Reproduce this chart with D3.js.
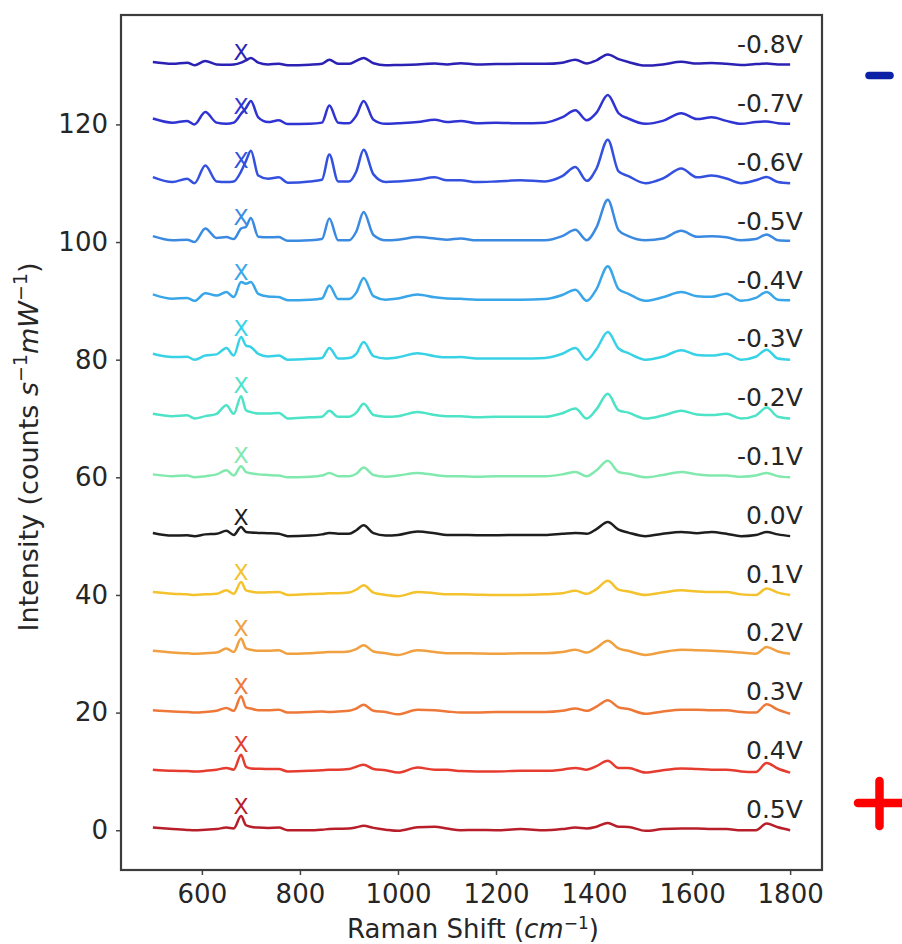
<!DOCTYPE html>
<html>
<head>
<meta charset="utf-8">
<script src="https://cdn.jsdelivr.net/npm/d3@7"></script>
<style>
  body { margin: 0; background: #fff; }
  text { font-family: "DejaVu Sans", sans-serif; fill: #262626; }
</style>
</head>
<body>
<div class="vis-raman"></div>
<script>
// Raman shift grid (cm^-1) shared by every spectrum
const wavenumbers = [500, 540, 570, 585, 607, 630, 650, 665, 680, 690, 700, 715, 735, 757, 775, 820, 845, 860, 878, 900,
  915, 930, 950, 975, 1000, 1040, 1075, 1100, 1128, 1160, 1200, 1250, 1300, 1335, 1362, 1385, 1405, 1428, 1450, 1470,
  1505, 1540, 1578, 1610, 1640, 1670, 1700, 1730, 1752, 1775, 1800];

const voltages = ['-0.8V', '-0.7V', '-0.6V', '-0.5V', '-0.4V', '-0.3V', '-0.2V', '-0.1V', '0.0V', '0.1V', '0.2V', '0.3V', '0.4V', '0.5V'];
const offsets = [130, 120, 110, 100, 90, 80, 70, 60, 50, 40, 30, 20, 10, 0];
const markerY = [132.3, 123.2, 113.9, 104.3, 94.9, 85.4, 75.6, 63.7, 53.3, 43.9, 34.3, 24.5, 14.7, 4.1];
const markerShift = 680;
const colors = ['#2b21b4', '#2e33d2', '#3450df', '#3a8ae2', '#38a6e8', '#38d2e6', '#4ce3c6', '#82e9ae', '#1e1e1e',
  '#f4c22c', '#f0a040', '#ee7838', '#e63c30', '#b81e2a'];

// intensities above each offset (counts s^-1 mW^-1)
const sM08 = [0.6, 0.3, 0.5, 0.05, 0.8, 0.2, 0.15, 0.2, 0.5, 0.9, 1.3, 0.5, 0.2, 0.3, 0.05, 0.15, 0.3, 1.0, 0.3, 0.3,
  0.8, 1.3, 0.4, 0.05, 0.1, 0.2, 0.35, 0.2, 0.4, 0.2, 0.25, 0.3, 0.3, 0.5, 1.0, 0.35, 0.9, 1.9, 1.1, 0.6,
  0.0, 0.2, 0.65, 0.35, 0.45, 0.3, 0.1, 0.25, 0.35, 0.2, 0.2];
const sM07 = [1.0, 0.3, 0.6, 0.0, 2.1, 0.3, 0.1, 0.3, 1.8, 2.8, 4.0, 1.2, 0.4, 0.7, 0.05, 0.1, 0.3, 3.2, 0.3, 0.2,
  1.5, 4.0, 0.8, 0.1, 0.2, 0.4, 0.8, 0.4, 0.6, 0.2, 0.3, 0.2, 0.3, 1.2, 2.4, 0.7, 2.0, 5.0, 1.9, 1.0,
  0.1, 0.6, 1.9, 0.9, 1.2, 0.6, 0.1, 0.4, 0.5, 0.2, 0.1];
const sM06 = [1.05, 0.2, 0.75, 0.0, 3.0, 0.3, 0.2, 0.3, 2.0, 3.8, 5.5, 1.3, 0.75, 1.0, 0.1, 0.3, 0.6, 4.9, 0.3, 0.3,
  2.0, 5.7, 1.5, 0.2, 0.3, 0.6, 1.0, 0.5, 0.5, 0.2, 0.3, 0.5, 0.3, 1.2, 2.75, 0.4, 2.5, 7.4, 2.0, 1.2,
  0.0, 0.8, 2.5, 1.0, 1.3, 0.8, 0.0, 0.5, 1.05, 0.2, 0.0];
const sM05 = [1.0, 0.3, 0.4, 0.0, 2.3, 0.7, 0.85, 0.5, 2.3, 2.6, 4.1, 0.9, 0.8, 0.85, 0.2, 0.3, 0.5, 4.0, 0.3, 0.3,
  1.8, 5.1, 1.2, 0.3, 0.4, 0.85, 0.6, 0.4, 0.6, 0.3, 0.3, 0.3, 0.3, 1.0, 2.1, 0.3, 2.5, 7.2, 2.0, 1.0,
  0.3, 0.6, 1.9, 0.9, 1.0, 0.8, 0.3, 0.5, 1.3, 0.3, 0.2];
const sM04 = [1.1, 0.35, 0.5, 0.0, 1.3, 0.9, 1.5, 0.65, 3.2, 2.9, 3.2, 1.2, 0.75, 0.65, 0.1, 0.2, 0.4, 2.6, 0.3, 0.3,
  1.4, 3.9, 0.8, 0.2, 0.4, 1.1, 0.6, 0.4, 0.35, 0.2, 0.2, 0.2, 0.3, 1.0, 1.9, 0.0, 2.0, 5.9, 2.0, 1.2,
  0.0, 0.6, 1.5, 0.8, 0.7, 1.2, 0.0, 0.5, 1.5, 0.2, 0.1];
const sM03 = [1.0, 0.45, 0.5, 0.0, 0.7, 0.9, 2.0, 0.7, 3.85, 2.4, 2.15, 1.0, 0.55, 0.7, 0.0, 0.15, 0.3, 2.0, 0.2, 0.3,
  1.0, 3.0, 0.6, 0.2, 0.4, 1.1, 0.6, 0.4, 0.45, 0.2, 0.2, 0.2, 0.3, 1.0, 2.0, 0.0, 1.8, 4.7, 1.9, 1.1,
  0.0, 0.5, 1.6, 0.8, 0.7, 1.0, 0.0, 0.5, 1.7, 0.2, 0.0];
const sM02 = [0.8, 0.4, 0.55, 0.0, 0.4, 0.8, 2.25, 0.8, 3.8, 1.4, 1.1, 0.85, 0.85, 0.95, 0.0, 0.2, 0.3, 1.3, 0.3, 0.3,
  1.0, 2.5, 0.6, 0.3, 0.4, 1.1, 0.6, 0.4, 0.4, 0.2, 0.3, 0.3, 0.3, 0.9, 1.7, 0.0, 1.6, 4.2, 1.4, 1.0,
  0.0, 0.5, 1.3, 0.7, 0.6, 0.8, 0.0, 0.5, 1.85, 0.3, 0.0];
const sM01 = [0.5, 0.2, 0.3, 0.0, 0.2, 0.5, 1.2, 0.3, 1.9, 0.9, 0.7, 0.5, 0.4, 0.3, 0.0, 0.1, 0.3, 0.75, 0.2, 0.2,
  0.6, 1.65, 0.4, 0.1, 0.3, 0.75, 0.4, 0.2, 0.2, 0.1, 0.2, 0.2, 0.2, 0.5, 0.9, 0.2, 1.2, 2.8, 0.9, 0.6,
  0.0, 0.4, 0.9, 0.5, 0.3, 0.3, 0.1, 0.3, 0.75, 0.2, 0.0];
const s00 = [0.55, 0.1, 0.15, 0.0, 0.3, 0.4, 0.9, 0.2, 1.55, 0.7, 0.6, 0.55, 0.5, 0.4, 0.0, 0.1, 0.3, 0.55, 0.4, 0.4,
  1.0, 1.85, 0.5, 0.1, 0.2, 0.8, 0.5, 0.2, 0.2, 0.15, 0.15, 0.2, 0.2, 0.4, 0.55, 0.4, 1.2, 2.4, 1.1, 0.6,
  0.0, 0.4, 0.7, 0.5, 0.7, 0.4, 0.0, 0.2, 0.7, 0.3, 0.0];
const sP01 = [0.5, 0.2, 0.1, 0.0, 0.1, 0.2, 0.8, 0.2, 2.2, 0.8, 0.6, 0.4, 0.45, 0.5, 0.0, 0.15, 0.2, 0.3, 0.3, 0.4,
  0.9, 1.65, 0.4, 0.0, -0.2, 0.5, 0.3, 0.1, 0.1, 0.05, 0.0, 0.0, 0.1, 0.3, 0.7, 0.2, 1.0, 2.4, 0.9, 0.6,
  0.0, 0.4, 0.8, 0.6, 0.5, 0.5, 0.1, 0.0, 1.1, 0.4, 0.0];
const sP02 = [0.5, 0.2, 0.1, 0.0, 0.1, 0.2, 0.9, 0.3, 2.6, 0.9, 0.7, 0.5, 0.5, 0.6, 0.0, 0.1, 0.2, 0.3, 0.3, 0.4,
  0.8, 1.45, 0.4, 0.1, -0.2, 0.6, 0.3, 0.1, 0.1, 0.05, 0.0, 0.1, 0.1, 0.3, 0.7, 0.2, 1.0, 2.2, 0.9, 0.5,
  -0.2, 0.3, 0.7, 0.6, 0.5, 0.4, 0.2, 0.0, 1.15, 0.4, 0.0];
const sP03 = [0.4, 0.2, 0.1, 0.0, 0.1, 0.3, 0.8, 0.3, 2.8, 0.9, 0.7, 0.4, 0.4, 0.5, 0.0, 0.1, 0.2, 0.1, 0.2, 0.3,
  0.7, 1.35, 0.3, 0.1, -0.3, 0.5, 0.4, 0.2, 0.0, 0.0, 0.1, 0.1, 0.1, 0.3, 0.7, 0.3, 1.0, 2.1, 0.9, 0.6,
  -0.2, 0.2, 0.5, 0.5, 0.4, 0.4, 0.1, 0.0, 1.4, 0.5, -0.2];
const sP04 = [0.3, 0.1, 0.05, 0.0, 0.1, 0.3, 0.6, 0.3, 2.85, 0.8, 0.5, 0.45, 0.4, 0.4, 0.0, 0.1, 0.2, 0.3, 0.3, 0.4,
  0.8, 1.15, 0.4, 0.2, -0.2, 0.65, 0.3, 0.3, 0.05, 0.0, 0.0, 0.1, 0.1, 0.3, 0.6, 0.3, 0.9, 1.8, 0.6, 0.6,
  -0.2, 0.2, 0.5, 0.4, 0.3, 0.3, 0.0, -0.1, 1.45, 0.5, -0.2];
const sP05 = [0.45, 0.2, 0.05, 0.0, 0.1, 0.2, 0.45, 0.3, 2.4, 0.85, 0.6, 0.45, 0.4, 0.45, 0.0, 0.0, 0.1, 0.2, 0.25, 0.3,
  0.5, 0.75, 0.4, 0.1, -0.1, 0.5, 0.6, 0.3, 0.0, 0.05, 0.0, 0.2, 0.0, 0.2, 0.45, 0.3, 0.6, 1.25, 0.6, 0.55,
  -0.1, 0.2, 0.3, 0.3, 0.2, 0.2, 0.0, 0.0, 1.15, 0.5, 0.0];
const spectra = [sM08, sM07, sM06, sM05, sM04, sM03, sM02, sM01, s00, sP01, sP02, sP03, sP04, sP05];

const xTicks = [600, 800, 1000, 1200, 1400, 1600, 1800];
const yTicks = [0, 20, 40, 60, 80, 100, 120];

const draw = () => {
  const width = 902;
  const height = 944;
  const frame = { left: 121, right: 822, top: 15, bottom: 870 };

  const svg = d3
    .select('.vis-raman')
    .append('svg')
    .attr('width', width)
    .attr('height', height)
    .style('display', 'block');

  svg.append('rect').attr('width', width).attr('height', height).attr('fill', '#fff');

  const x = d3.scaleLinear().domain([435, 1865]).range([frame.left, frame.right]);
  const y = d3.scaleLinear().domain([-6.76, 138.6]).range([frame.bottom, frame.top]);

  // spectra
  const line = d3
    .line()
    .x((d, i) => x(wavenumbers[i]))
    .y((d) => y(d.v))
    .curve(d3.curveMonotoneX);

  spectra.forEach((s, k) => {
    const pts = s.map((v) => ({ v: v + offsets[k] }));
    svg
      .append('path')
      .datum(pts)
      .attr('fill', 'none')
      .attr('stroke', colors[k])
      .attr('stroke-width', 2.5)
      .attr('stroke-linejoin', 'round')
      .attr('d', line);

    // peak marker
    svg
      .append('text')
      .attr('x', x(markerShift))
      .attr('y', y(markerY[k]))
      .attr('dy', '0.36em')
      .attr('text-anchor', 'middle')
      .style('font-size', '22px')
      .style('fill', colors[k])
      .text('X');

    // voltage label
    svg
      .append('text')
      .attr('x', x(1826))
      .attr('y', y(offsets[k] + 2.1))
      .attr('text-anchor', 'end')
      .style('font-size', '25px')
      .text(voltages[k]);
  });

  // axes
  const xAxis = svg
    .append('g')
    .attr('transform', `translate(0,${frame.bottom})`)
    .call(d3.axisBottom(x).tickValues(xTicks).tickFormat(d3.format('d')).tickSize(5).tickPadding(10));
  const yAxis = svg
    .append('g')
    .attr('transform', `translate(${frame.left},0)`)
    .call(d3.axisLeft(y).tickValues(yTicks).tickSize(5).tickPadding(8));
  [xAxis, yAxis].forEach((g) => {
    g.select('.domain').remove();
    g.selectAll('.tick line').attr('stroke', '#444').attr('stroke-width', 1.5);
    g.selectAll('.tick text')
      .style('font-family', '"DejaVu Sans", sans-serif')
      .style('font-size', '26px')
      .style('fill', '#262626');
  });

  // frame
  svg
    .append('rect')
    .attr('x', frame.left)
    .attr('y', frame.top)
    .attr('width', frame.right - frame.left)
    .attr('height', frame.bottom - frame.top)
    .attr('fill', 'none')
    .attr('stroke', '#3c3c3c')
    .attr('stroke-width', 2.2);

  // axis titles
  const xt = svg
    .append('text')
    .attr('x', 473)
    .attr('y', 938)
    .attr('text-anchor', 'middle')
    .style('font-size', '26px');
  xt.append('tspan').text('Raman Shift (');
  xt.append('tspan').style('font-style', 'italic').text('cm');
  xt.append('tspan').attr('dy', -9).style('font-size', '17px').text('\u22121');
  xt.append('tspan').attr('dy', 9).text(')');

  const yt = svg
    .append('text')
    .attr('transform', `translate(38,447) rotate(-90)`)
    .attr('text-anchor', 'middle')
    .style('font-size', '27px');
  yt.append('tspan').text('Intensity (counts ');
  yt.append('tspan').style('font-style', 'italic').text('s');
  yt.append('tspan').attr('dy', -11).style('font-size', '19px').text('\u22121');
  yt.append('tspan').attr('dy', 11).style('font-style', 'italic').text('mW');
  yt.append('tspan').attr('dy', -11).style('font-size', '19px').text('\u22121');
  yt.append('tspan').attr('dy', 11).text(')');

  // polarity signs at the side
  svg
    .append('line')
    .attr('x1', 869).attr('x2', 890).attr('y1', 75.5).attr('y2', 75.5)
    .attr('stroke', '#0b22a6').attr('stroke-width', 7.5).attr('stroke-linecap', 'round');
  svg
    .append('path')
    .attr('d', 'M858,803H904M879.5,781V826')
    .attr('stroke', '#ff0000').attr('stroke-width', 8.5).attr('stroke-linecap', 'round')
    .attr('fill', 'none');
};

draw();
</script>
</body>
</html>
